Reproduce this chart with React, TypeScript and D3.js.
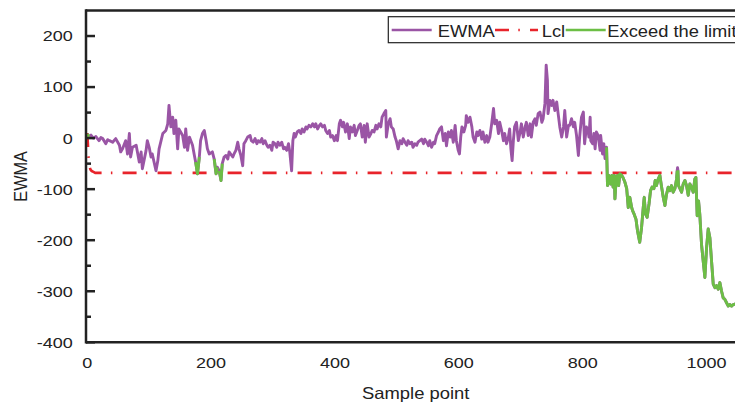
import React from 'react';
import * as d3 from 'd3';

// EWMA statistic: [sample point, EWMA value]
const ewmaPoints: [number, number][] = [
  [0, 8], [3, 3], [6, 6], [10, 0], [14, 3], [19, -5], [22, 1], [25, -1], [30, -11], [33, -3], [36, -5], [41, -8], [46, -1],
  [52, -14], [54, -27], [57, -21], [62, -5], [65, -31], [68, 9], [70, -37], [73, -18], [79, -14], [84, -47], [87, -27],
  [89, -60], [95, -24], [97, -5], [100, -18], [103, -37], [105, -31], [111, -64], [114, -44], [116, -21], [122, 9],
  [127, 15], [130, 28], [132, 64], [135, 22], [138, 41], [140, 9], [143, 35], [146, -21], [148, 18], [154, 5], [157, -18],
  [159, 18], [162, -24], [165, 2], [170, -14], [173, -34], [175, -47], [178, -70], [181, -37], [183, -5], [186, 9],
  [189, 15], [192, -5], [194, -21], [197, -31], [202, -27], [205, -41], [208, -70], [210, -57], [213, -64], [216, -83],
  [218, -50], [221, -37], [224, -34], [227, -41], [229, -27], [235, -37], [237, -31], [240, -24], [243, -8], [245, -21],
  [248, -34], [251, -54], [253, -11], [256, -5], [259, 2],
  [263, 5], [265, -5], [268, -8], [271, -1], [274, -11], [276, -5], [279, -8], [282, -1], [284, -11], [287, -5], [290, -14],
  [292, -18], [295, -14], [298, -24], [300, -8], [303, -11], [306, -18], [308, -8], [311, -14], [314, -8], [317, -21],
  [319, -18], [322, -24], [325, -11], [327, -27], [330, -64], [332, -5], [334, 9], [336, 2], [339, 12], [342, 15], [345, 9],
  [347, 18], [350, 12], [353, 22], [355, 18], [358, 25], [361, 22], [364, 28], [367, 22], [369, 28], [372, 18], [375, 25],
  [377, 28], [380, 22], [383, 25], [385, 15], [388, 9], [391, 15], [393, 2], [396, 5], [399, -5], [402, 5], [404, -5],
  [407, 28], [409, 35], [412, 22], [414, 31], [417, 12], [420, 28], [423, -1], [425, 22], [428, 12], [431, 25], [433, 5],
  [436, 15], [439, 25], [441, 28], [444, 2], [447, 25], [449, -8], [452, 28], [455, 2], [458, 9], [460, 15], [463, 12],
  [466, 25], [468, 18], [471, 28], [474, 22], [476, 41], [479, 48], [482, 54], [483, 2], [486, 28], [489, 38], [491, 22],
  [494, 18], [497, 2], [499, -5], [502, -21], [505, -5], [508, -11], [510, -1], [513, -8], [516, -14], [518, -5], [521, -11],
  [524, -8], [526, -18], [529, -11], [532, -14], [534, -8],
  [537, -5], [540, -2], [543, -11], [545, -2], [548, -8], [551, -15], [553, -5], [556, -18], [559, -8], [561, -11], [564, 5],
  [567, 12], [569, 18], [572, 22], [575, -5], [578, 9], [580, -15], [583, 12], [586, 2], [588, 15], [591, -8], [594, 25],
  [596, -5], [599, -24], [601, -31], [603, 2], [605, 22], [608, 12], [611, 25], [612, 44], [615, 31], [618, 41], [621, 22],
  [623, 2], [626, -8], [629, 12], [631, 5], [634, 15], [637, -2], [639, 12], [642, -8], [645, 5], [647, -8], [650, 2],
  [653, 28], [656, 58], [658, 28], [661, 35], [664, 9], [666, 31], [669, 15], [672, -5], [674, 9], [677, -11], [680, 2],
  [682, 18], [684, -21], [686, -44], [688, -5], [690, 22], [693, 31], [696, -5], [699, 12], [701, 28], [704, 2], [707, 22],
  [709, 31], [712, 5], [715, 28], [717, 2], [720, 31], [723, 38], [725, 25], [728, 48], [731, 51], [734, 31], [736, 38],
  [739, 68], [741, 143], [743, 113], [744, 48], [747, 74], [750, 64], [752, 74], [755, 54], [758, 71], [760, 51], [763, 22],
  [766, 2], [769, 22], [771, 54], [774, 2], [777, 25], [779, 25], [782, 38], [785, 22], [787, 31], [790, 5], [793, -34],
  [795, 2], [798, 41], [801, 51], [803, -11], [806, 22], [809, 12], [810, 2], [812, 41],
  [813, -5], [816, -11], [818, 9], [820, -21], [822, 12], [825, 5], [828, -24], [829, 5], [832, -31], [834, -11], [836, -40],
  [838.5, -18], [840, -93], [842, -73], [845, -90], [847, -73], [849, -96], [851, -73], [852, -119], [854, -80], [856, -73],
  [858, -93], [860, -70], [863, -73], [865, -77], [868, -86], [871, -99], [873.5, -136], [876, -116], [879, -136],
  [880.5, -142], [883, -149], [886, -159], [888.5, -182], [892, -204], [895, -175], [897.7, -136], [899.3, -116],
  [901.4, -149], [904, -155], [907, -129], [909.5, -103], [912, -96], [915, -99], [917, -83], [919, -93], [922, -80],
  [924.6, -73], [927, -93], [930, -116], [932.7, -132], [935, -112], [938, -96], [940.7, -103], [943.4, -93], [946, -106],
  [948.8, -99], [951.5, -80], [952.5, -64], [953.1, -58], [953.7, -63], [954.7, -93], [957, -99], [959.6, -106],
  [962.2, -90], [965, -83], [967.6, -93], [970.3, -112], [973, -90], [975.7, -96], [978.4, -106], [981, -80], [982.7, -77],
  [984.8, -152], [987, -123], [989, -149], [991.8, -208], [994.5, -241], [997.2, -273], [1000, -214], [1002.6, -178],
  [1005.3, -195], [1008, -241], [1010.7, -286], [1013.4, -293], [1016, -289], [1018.7, -296], [1021.4, -283], [1024, -299],
  [1026.8, -313], [1029.5, -316], [1032, -322], [1035, -329], [1037.6, -326], [1040.3, -329], [1043, -326], [1045.7, -325],
  [1050, -328],
];

// Lower control limit
const lclSample = [0, 1, 2, 3, 4, 5, 6, 8, 10, 13, 1060];
const lclValue = [10, -10, -35, -50, -57, -61, -63, -65, -66, -68, -68];

const xTicks = [0, 200, 400, 600, 800, 1000];
const yTicks = [-400, -300, -200, -100, 0, 100, 200];
const yMinorTicks = [-350, -250, -150, -50, 50, 150];
const legendLabels = ['EWMA', 'Lcl', 'Exceed the limit'];
const xTitle = 'Sample point';
const yTitle = 'EWMA';

const PURPLE = '#9a55a5';
const GREEN = '#6cbe45';
const RED = '#e8242b';
const INK = '#222';
const FONT = '"Liberation Sans", Arial, Helvetica, sans-serif';

export default function App() {
  const W = 735;
  const H = 404;
  const left = 86;
  const right = 745;
  const top = 10.5;
  const bottom = 342.3;

  const x = d3.scaleLinear().domain([-2, 1062]).range([left, right]);
  const y = d3.scaleLinear().domain([-400, 250]).range([bottom, top]);
  const lclAt = d3.scaleLinear().domain(lclSample).range(lclValue).clamp(true);

  const line = d3
    .line<[number, number]>()
    .x((d) => x(d[0]))
    .y((d) => y(d[1]));

  const lclPts: [number, number][] = lclSample.map((s, i) => [s, lclValue[i]]);

  // green runs: segments touching a point below the LCL
  const below = ewmaPoints.map((p) => p[1] < lclAt(p[0]));
  const runs: [number, number][][] = [];
  let cur: [number, number][] | null = null;
  for (let i = 0; i < ewmaPoints.length - 1; i++) {
    const g = below[i] || below[i + 1];
    if (g) {
      if (!cur) {
        cur = [ewmaPoints[i]];
        runs.push(cur);
      }
      cur.push(ewmaPoints[i + 1]);
    } else {
      cur = null;
    }
  }

  const tickFs = 15;
  const tickSx = 1.2;
  const titleFs = 16.3;
  const titleSx = 1.13;
  const legFs = 16.5;
  const legSx = 1.11;

  const legY = 30;
  const legBase = 36.7;
  const dataW = 2.9;

  return (
    <svg
      width={W}
      height={H}
      style={{ position: 'absolute', left: 0, top: 0, background: '#fff' }}
      fontFamily={FONT}
    >
      <rect x={0} y={0} width={W} height={H} fill="#fff" />
      <defs>
        <clipPath id="plotClip">
          <rect x={left} y={top} width={right - left} height={bottom - top} />
        </clipPath>
      </defs>

      <g clipPath="url(#plotClip)">
        <path
          d={line(lclPts) || ''}
          fill="none"
          stroke={RED}
          strokeWidth={2.6}
          strokeDasharray="14,9.3,1.5,10.2"
        />
        <path
          d={line(ewmaPoints) || ''}
          fill="none"
          stroke={PURPLE}
          strokeWidth={dataW}
          strokeLinejoin="round"
        />
        {runs.map((r, i) => (
          <path
            key={i}
            d={line(r) || ''}
            fill="none"
            stroke={GREEN}
            strokeWidth={dataW}
            strokeLinejoin="round"
          />
        ))}
      </g>

      {/* frame */}
      <line x1={left} x2={right + 5} y1={top} y2={top} stroke={INK} strokeWidth={2.5} />
      <line x1={left} x2={right + 5} y1={bottom} y2={bottom} stroke={INK} strokeWidth={2.5} />
      <line x1={left} x2={left} y1={top - 1.2} y2={bottom + 1.2} stroke={INK} strokeWidth={2.5} />

      {/* y ticks */}
      {yTicks.map((t) => (
        <g key={'yt' + t}>
          <line x1={left} x2={left + 9} y1={y(t)} y2={y(t)} stroke={INK} strokeWidth={2.5} />
          <text
            transform={`translate(${72.7},${y(t) + 5.4}) scale(${tickSx},1)`}
            textAnchor="end"
            fontSize={tickFs}
            fill={INK}
          >
            {t}
          </text>
        </g>
      ))}
      {yMinorTicks.map((t) => (
        <line key={'ym' + t} x1={left} x2={left + 5} y1={y(t)} y2={y(t)} stroke={INK} strokeWidth={2.5} />
      ))}

      {/* x tick labels */}
      {xTicks.map((t) => (
        <text
          key={'xt' + t}
          transform={`translate(${x(t)},${367.6}) scale(${tickSx},1)`}
          textAnchor="middle"
          fontSize={tickFs}
          fill={INK}
        >
          {t}
        </text>
      ))}

      {/* axis titles */}
      <text
        transform={`translate(${415.7},${399}) scale(${titleSx},1)`}
        textAnchor="middle"
        fontSize={titleFs}
        fill={INK}
      >
        {xTitle}
      </text>
      <text
        transform={`translate(${26.5},${(top + bottom) / 2}) scale(${titleSx},1) rotate(-90)`}
        textAnchor="middle"
        fontSize={titleFs}
        fill={INK}
      >
        {yTitle}
      </text>

      {/* legend */}
      <rect x={388.3} y={16.7} width={420} height={26} fill="#fff" stroke={INK} strokeWidth={1.2} />
      <line x1={391.7} x2={431.7} y1={legY} y2={legY} stroke={PURPLE} strokeWidth={2.5} />
      <text transform={`translate(${437.7},${legBase}) scale(${legSx},1)`} fontSize={legFs} fill={INK}>
        {legendLabels[0]}
      </text>
      <line
        x1={495}
        x2={538}
        y1={legY}
        y2={legY}
        stroke={RED}
        strokeWidth={2.5}
        strokeDasharray="14,9.3,1.5,10.2"
      />
      <text transform={`translate(${541.7},${legBase}) scale(${legSx},1)`} fontSize={legFs} fill={INK}>
        {legendLabels[1]}
      </text>
      <line x1={565.7} x2={605.7} y1={legY} y2={legY} stroke={GREEN} strokeWidth={2.5} />
      <text transform={`translate(${607.3},${legBase}) scale(${legSx},1)`} fontSize={legFs} fill={INK}>
        {legendLabels[2]}
      </text>
    </svg>
  );
}
